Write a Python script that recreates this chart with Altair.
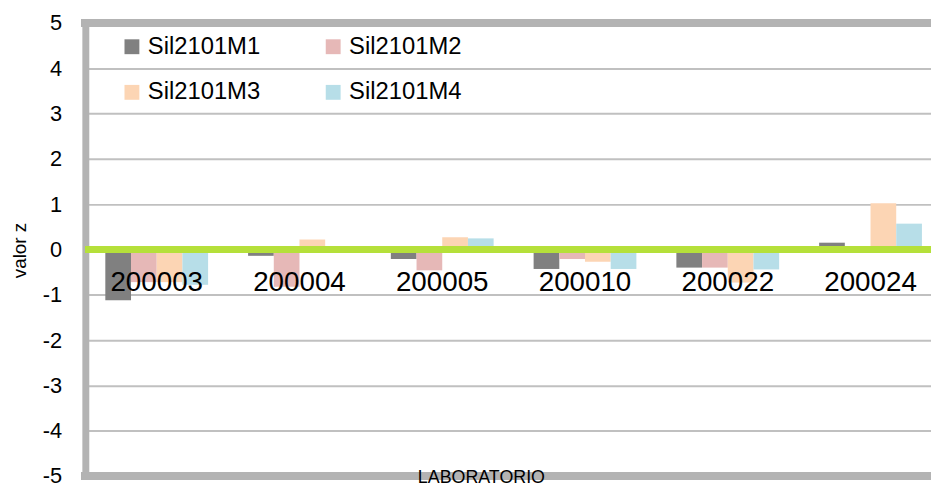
import altair as alt
import pandas as pd

labs = ["200003", "200004", "200005", "200010", "200022", "200024"]
series = ["Sil2101M1", "Sil2101M2", "Sil2101M3", "Sil2101M4"]
m1 = [-1.12, -0.14, -0.21, -0.43, -0.40, 0.15]
m2 = [-0.72, -0.82, -0.46, -0.21, -0.40, 0.0]
m3 = [-0.72, 0.22, 0.27, -0.27, -0.73, 1.02]
m4 = [-0.78, 0.0, 0.245, -0.43, -0.44, 0.57]
colors = ["#808080", "#e6b8b7", "#fcd5b4", "#b7dee8"]
yticks = [-5, -4, -3, -2, -1, 0, 1, 2, 3, 4, 5]

rows = []
for s, vals in zip(series, [m1, m2, m3, m4]):
    for lab, v in zip(labs, vals):
        rows.append({"lab": lab, "serie": s, "z": v})
df = pd.DataFrame(rows)
labdf = pd.DataFrame({"lab": labs})

FONT = "Liberation Sans"

xscale = alt.Scale(domain=labs, range=[0, 864], paddingInner=0.28, paddingOuter=0.14)
yscale = alt.Scale(domain=[-5, 5], nice=False, zero=False)

bars = alt.Chart(df).mark_bar().encode(
    x=alt.X("lab:N", scale=xscale, sort=labs,
            axis=alt.Axis(title="LABORATORIO", labels=False, ticks=False, domain=False, grid=False,
                          titleFont=FONT, titleFontSize=18, titleFontWeight="normal", titleColor="#000000",
                          titleX=399, titleY=2, titleBaseline="middle", titleAlign="center", zindex=1)),
    xOffset=alt.XOffset("serie:N", sort=series, scale=alt.Scale(paddingInner=0, paddingOuter=0)),
    y=alt.Y("z:Q", scale=yscale,
            axis=alt.Axis(title="valor z", values=yticks, labelExpr="toString(datum.value)", ticks=False,
                          domain=True, domainColor="#b3b3b3", domainWidth=7,
                          grid=True, gridColor="#c0c0c0", gridWidth=2,
                          labelFont=FONT, labelFontSize=22, labelColor="#000000", labelPadding=24,
                          titleFont=FONT, titleFontSize=19, titleFontWeight="normal", titleColor="#000000",
                          titleX=-66, titleY=229, titleAlign="center", titleBaseline="middle", titleAngle=270)),
    color=alt.Color("serie:N", scale=alt.Scale(domain=series, range=colors),
                    legend=alt.Legend(title=None, orient="none", legendX=35, legendY=12,
                                      direction="horizontal", columns=2, columnPadding=61, rowPadding=22,
                                      symbolType="square", symbolSize=225, symbolStrokeWidth=0,
                                      labelFont=FONT, labelFontSize=24, labelColor="#000000",
                                      labelOffset=4, padding=0)),
)

zero_line = alt.Chart(labdf).mark_rule(color="#b5e03a", strokeWidth=7).encode(y=alt.datum(0))
top_border = alt.Chart(labdf).mark_rule(color="#b3b3b3", strokeWidth=8, strokeCap="square").encode(y=alt.datum(5))
bottom_border = alt.Chart(labdf).mark_rule(color="#b3b3b3", strokeWidth=8, strokeCap="square").encode(y=alt.datum(-5))

labels = alt.Chart(labdf).mark_text(font=FONT, fontSize=28, baseline="middle", dy=34, color="#000000").encode(
    x=alt.X("lab:N", scale=xscale, sort=labs),
    y=alt.datum(0),
    text="lab:N",
)

chart = alt.layer(bars, zero_line, labels, top_border, bottom_border).properties(
    width=853, height=457,
    autosize=alt.AutoSizeParams(type="none"),
    padding={"left": 78, "top": 13, "right": 0, "bottom": 9},
).configure_view(stroke=None)

chart.save("out.html", embed_options={"renderer": "svg", "actions": False})
